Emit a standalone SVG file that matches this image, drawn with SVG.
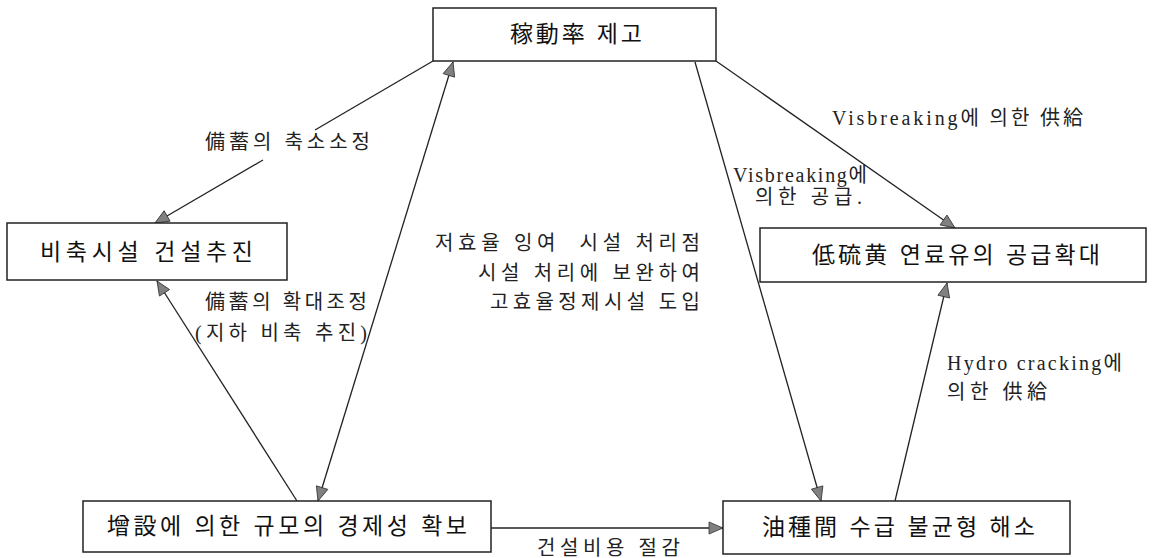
<svg xmlns="http://www.w3.org/2000/svg" width="1154" height="558" viewBox="0 0 1154 558">
<style>
.box{fill:#fff;stroke:#222;stroke-width:1.5}
.nt{font-family:"Liberation Sans","Noto Sans CJK KR",sans-serif;font-size:23px;fill:#111}
.lb{font-family:"Liberation Serif","Noto Sans CJK KR",serif;font-size:20px;fill:#222}
.ln{fill:none;stroke:#222;stroke-width:1.3}
</style>
<defs>
<marker id="ah" markerUnits="userSpaceOnUse" markerWidth="16" markerHeight="14" refX="15" refY="7" orient="auto-start-reverse" viewBox="0 0 16 14">
<path d="M1,1 L15,7 L1,13 z" fill="#808080" stroke="#333" stroke-width="0.8"/>
</marker>
</defs>
<rect width="1154" height="558" fill="#fff"/>
<g id="connectors">
<line class="ln" x1="433" y1="61" x2="315" y2="130"/>
<line class="ln" x1="263" y1="160" x2="155" y2="223" marker-end="url(#ah)"/>
<line class="ln" x1="453" y1="62" x2="318" y2="501" marker-start="url(#ah)" marker-end="url(#ah)"/>
<line class="ln" x1="297" y1="501" x2="157" y2="281" marker-end="url(#ah)"/>
<line class="ln" x1="695" y1="62" x2="821" y2="501" marker-end="url(#ah)"/>
<line class="ln" x1="716" y1="61" x2="955" y2="228" marker-end="url(#ah)"/>
<line class="ln" x1="895" y1="501" x2="947" y2="283" marker-end="url(#ah)"/>
<line class="ln" x1="491" y1="528" x2="723" y2="528" marker-end="url(#ah)"/>
</g>
<g id="node-top">
<rect class="box" x="433" y="8" width="283" height="53"/>
<text class="nt" x="510" y="42" textLength="132" lengthAdjust="spacing">稼動率 제고</text>
</g>
<g id="node-left">
<rect class="box" x="7" y="223" width="280" height="57"/>
<text class="nt" x="40" y="260" textLength="213" lengthAdjust="spacing">비축시설 건설추진</text>
</g>
<g id="node-right">
<rect class="box" x="760" y="228" width="386" height="54"/>
<text class="nt" x="812" y="263" textLength="288" lengthAdjust="spacing">低硫黄 연료유의 공급확대</text>
</g>
<g id="node-bottom-left">
<rect class="box" x="83" y="501" width="408" height="51"/>
<text class="nt" x="107" y="534" textLength="360" lengthAdjust="spacing">增設에 의한 규모의 경제성 확보</text>
</g>
<g id="node-bottom-right">
<rect class="box" x="723" y="501" width="347" height="53"/>
<text class="nt" x="762" y="535" textLength="273" lengthAdjust="spacing">油種間 수급 불균형 해소</text>
</g>
<g id="labels">
<text class="lb" x="205" y="149" textLength="165" lengthAdjust="spacing">備蓄의 축소소정</text>
<text class="lb" x="832" y="125" textLength="251" lengthAdjust="spacing">Visbreaking에 의한 供給</text>
<text class="lb" x="733" y="182" textLength="134" lengthAdjust="spacing">Visbreaking에</text>
<text class="lb" x="755" y="204" textLength="107" lengthAdjust="spacing">의한 공급.</text>
<text class="lb" x="435" y="250" textLength="265" lengthAdjust="spacing" xml:space="preserve">저효율 잉여  시설 처리점</text>
<text class="lb" x="478" y="280" textLength="222" lengthAdjust="spacing">시설 처리에 보완하여</text>
<text class="lb" x="490" y="309" textLength="210" lengthAdjust="spacing">고효율정제시설 도입</text>
<text class="lb" x="205" y="309" textLength="162" lengthAdjust="spacing">備蓄의 확대조정</text>
<text class="lb" x="195" y="340" textLength="172" lengthAdjust="spacing">(지하 비축 추진)</text>
<text class="lb" x="947" y="370" textLength="175" lengthAdjust="spacing">Hydro cracking에</text>
<text class="lb" x="947" y="399" textLength="100" lengthAdjust="spacing">의한 供給</text>
<text class="lb" x="537" y="555" textLength="143" lengthAdjust="spacing">건설비용 절감</text>
</g>
</svg>
